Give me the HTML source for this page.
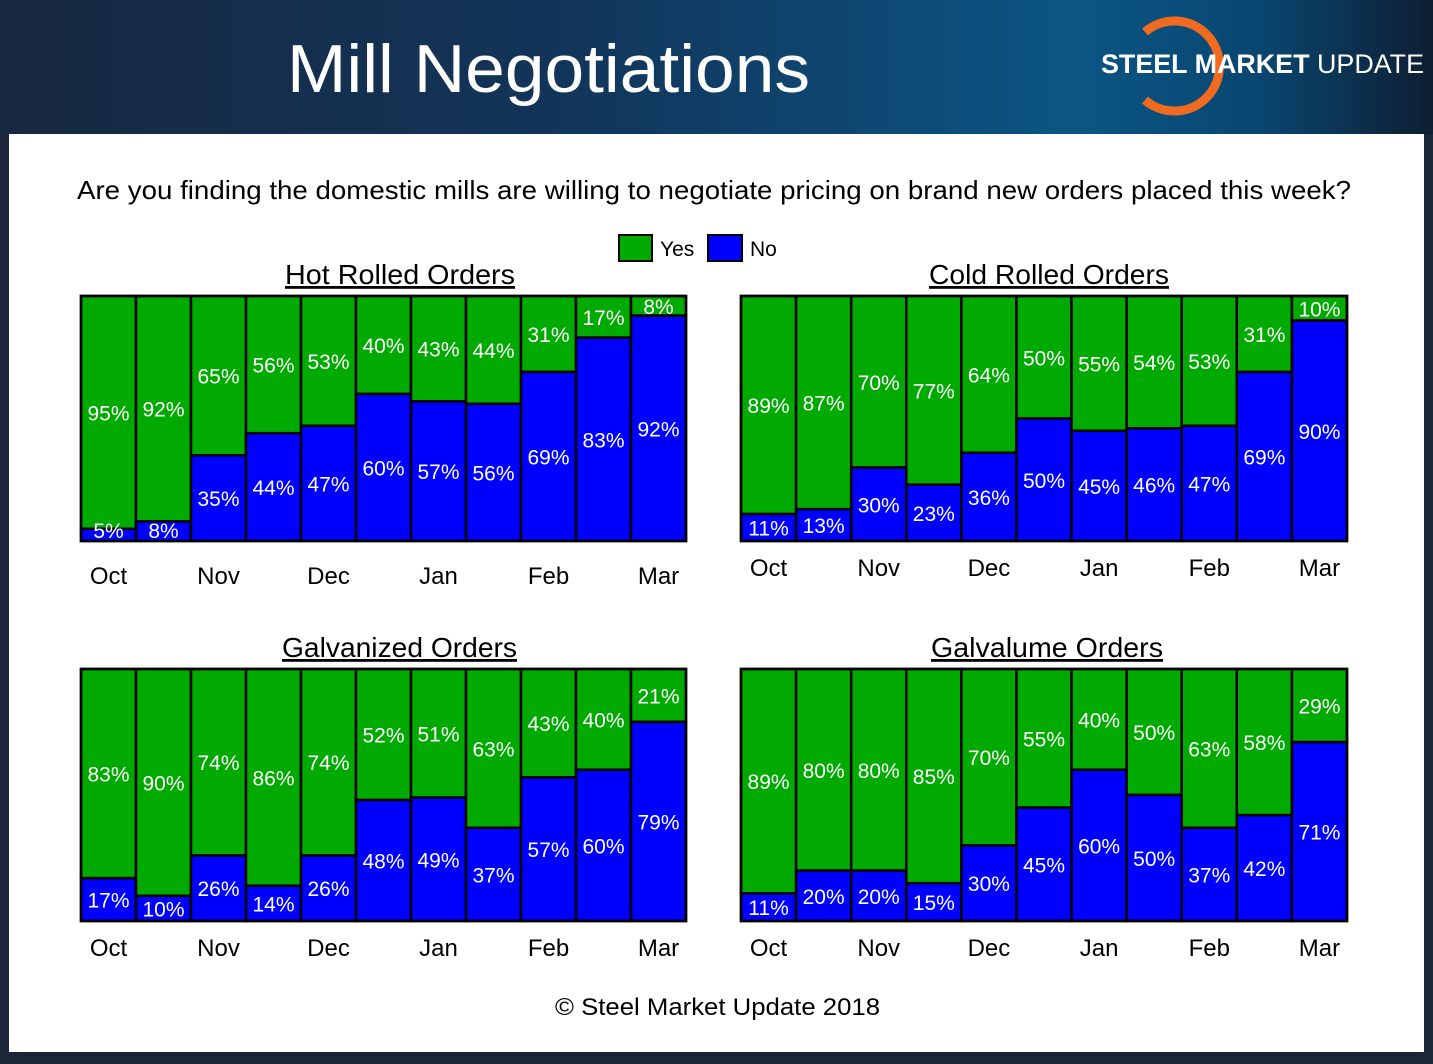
<!DOCTYPE html>
<html><head><meta charset="utf-8"><style>
body{margin:0;width:1433px;height:1064px;overflow:hidden;background:#1b2638;font-family:"Liberation Sans",sans-serif}
#hdr{position:absolute;left:0;top:0;width:1433px;height:134px;background:linear-gradient(90deg,#182840 0%,#12355a 40%,#0b5585 75%,#0a4670 88%,#0e1e32 100%)}
#panel{position:absolute;left:9px;top:134px;width:1415px;height:918px;background:#fff}
svg{position:absolute;left:0;top:0}
</style></head><body>
<div id="hdr"></div>
<div id="panel"></div>
<svg id="s" width="1433" height="1064">
<text x="287" y="92" font-size="68" fill="#fff" textLength="523" lengthAdjust="spacingAndGlyphs">Mill Negotiations</text>
<g>
<path d="M1145,32 A45,45 0 1 1 1145,100" fill="none" stroke="#f06a20" stroke-width="9"/>
<text x="1101" y="73" font-size="27" font-weight="bold" fill="#fff" textLength="323" lengthAdjust="spacingAndGlyphs">STEEL MARKET <tspan font-weight="normal">UPDATE</tspan></text>
</g>
<text x="77" y="199" font-size="26" fill="#000" textLength="1274" lengthAdjust="spacingAndGlyphs">Are you finding the domestic mills are willing to negotiate pricing on brand new orders placed this week?</text>
<g>
<rect x="619" y="235" width="33" height="26" fill="#00aa00" stroke="#000" stroke-width="2"/>
<text x="660" y="256" font-size="21">Yes</text>
<rect x="708" y="235" width="34" height="26" fill="#0000ff" stroke="#000" stroke-width="2"/>
<text x="750" y="256" font-size="21">No</text>
</g>
<text x="555" y="1015" font-size="24" textLength="325" lengthAdjust="spacingAndGlyphs">© Steel Market Update 2018</text>
</svg>
<script>
const months=["Oct","Nov","Dec","Jan","Feb","Mar"];
const hrYes=[95,92,65,56,53,40,43,44,31,17,8];
const hrNo=[5,8,35,44,47,60,57,56,69,83,92];
const crYes=[89,87,70,77,64,50,55,54,53,31,10];
const crNo=[11,13,30,23,36,50,45,46,47,69,90];
const gvYes=[83,90,74,86,74,52,51,63,43,40,21];
const gvNo=[17,10,26,14,26,48,49,37,57,60,79];
const glYes=[89,80,80,85,70,55,40,50,63,58,29];
const glNo=[11,20,20,15,30,45,60,50,37,42,71];
const NS="http://www.w3.org/2000/svg";
const svg=document.getElementById('s');
function mk(t,a,p){const e=document.createElementNS(NS,t);for(const k in a)e.setAttribute(k,a[k]);(p||svg).appendChild(e);return e;}
function chart(name,title,tx,tw,yes,no,x0,y0,w,h,monY){
  const g=mk('g',{});
  
  
  const t=mk('text',{x:tx,y:y0-12,'font-size':28,'text-decoration':'underline',textLength:tw,lengthAdjust:'spacingAndGlyphs'},g);
  t.textContent=title;
  
  
  const n=yes.length,bw=w/n;
  const ys=v=>h*v/100;
  for(let i=0;i<n;i++){
    const x=x0+i*bw,tot=yes[i]+no[i];
    const hn=ys(no[i]*100/tot),hy=h-hn;
    const r1=mk('rect',{x:x,y:y0,width:bw,height:hy,fill:'#00aa00',stroke:'#000','stroke-width':2.5},g);
    
    
    const r2=mk('rect',{x:x,y:y0+hy,width:bw,height:hn,fill:'#0000ff',stroke:'#000','stroke-width':2.5},g);
    
    
    let cy=y0+hy/2; cy=Math.max(cy,y0+10);
    const l1=mk('text',{x:x+bw/2,y:cy+8,'font-size':21,fill:'#fff','text-anchor':'middle'},g);
    l1.textContent=yes[i]+'%';
    
    
    let cn=y0+hy+hn/2; cn=Math.min(cn,y0+h-11);
    const l2=mk('text',{x:x+bw/2,y:cn+8,'font-size':21,fill:'#fff','text-anchor':'middle'},g);
    l2.textContent=no[i]+'%';
    
    
  }
  mk('rect',{x:x0,y:y0,width:w,height:h,fill:'none',stroke:'#000','stroke-width':2.5},g);
  months.forEach((m,j)=>{
    const mt=mk('text',{x:x0+(2*j+0.5)*bw,y:monY,'font-size':24,'text-anchor':'middle'},g);
    mt.textContent=m;
    
    
  });
}
chart('hot-rolled-chart','Hot Rolled Orders',285,230,hrYes,hrNo,81,296,605,245,584);
chart('cold-rolled-chart','Cold Rolled Orders',929,240,crYes,crNo,741,296,606,245,576);
chart('galvanized-chart','Galvanized Orders',282,235,gvYes,gvNo,81,669,605,252,956);
chart('galvalume-chart','Galvalume Orders',931,232,glYes,glNo,741,669,606,252,956);
</script>
</body></html>
